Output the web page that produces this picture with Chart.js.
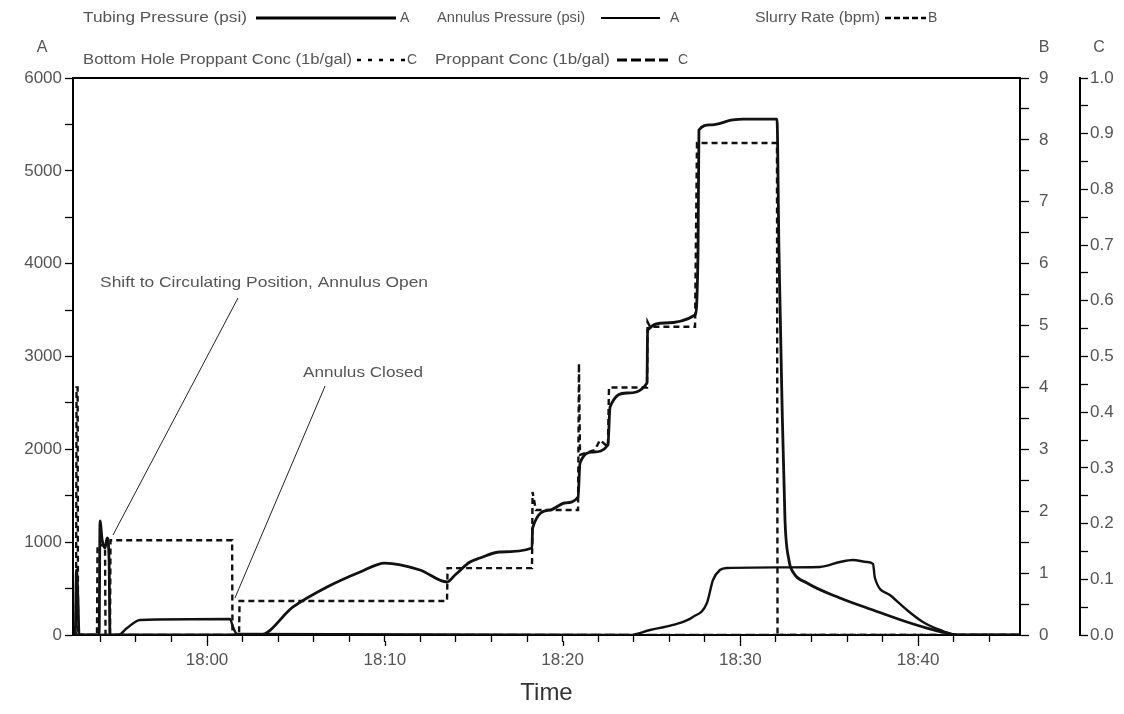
<!DOCTYPE html>
<html>
<head>
<meta charset="utf-8">
<script src="https://cdn.jsdelivr.net/npm/chart.js@4"></script>
<style>
  html, body { margin: 0; padding: 0; background: #fff; }
  #wrap { width: 1124px; height: 714px; }
</style>
</head>
<body>
<div id="wrap"><canvas id="chart" width="1124" height="714"></canvas></div>
<script>
// time in minutes relative to 18:00
const tubingTime = [-7.54, -7.42, -7.34, -7.26, -7.2, -6.07, -6.02, -5.9, -5.74, -5.62, -5.51, -5.46, 2.98, 4.84, 6.75, 8.61, 10.0, 11.98, 13.5, 13.95, 14.79, 15.35, 16.48, 18.28, 18.31, 19.29, 20.13, 20.87, 20.98, 21.71, 22.55, 22.67, 23.62, 24.75, 24.78, 25.76, 27.45, 27.62, 27.67, 28.29, 29.58, 30.15, 32.06, 32.17, 32.34, 32.51, 32.73, 32.96, 33.75, 35.6, 37.46, 39.37, 40.49, 41.62, 42.35, 45.73];
const tubingPsi = [0, 0, 700, 377, 0, 0, 1228, 1023, 937, 1045, 808, 0, 0, 302, 517, 679, 775, 700, 571, 646, 786, 829, 894, 937, 1153, 1346, 1422, 1487, 1853, 1971, 2047, 2456, 2607, 2715, 3285, 3361, 3447, 4147, 5440, 5494, 5548, 5558, 5558, 4147, 2531, 1239, 808, 679, 560, 399, 269, 140, 75, 22, 0, 0];

const annulusTime = [-7.54, -5.0, -4.5, -3.77, 1.29, 1.46, 1.69, 23.8, 24.92, 26.21, 27.33, 28.12, 28.46, 28.85, 29.25, 34.48, 35.6, 36.33, 37.12, 37.46, 37.57, 38.41, 39.37, 40.27, 41.23, 42.18, 45.73];
const annulusPsi = [0, 0, 75, 162, 172, 86, 11, 0, 54, 108, 194, 345, 592, 700, 722, 733, 786, 808, 786, 765, 614, 431, 269, 140, 54, 0, 0];

const slurryTime = [-7.54, -7.37, -7.34, -7.28, -7.26, -6.19, -6.16, -5.74, -5.71, -5.46, -5.43, 1.41, 1.43, 1.80, 1.83, 13.5, 13.53, 18.28, 18.31, 18.5, 20.87, 20.92, 20.98, 21.82, 22.1, 22.55, 22.61, 24.75, 24.78, 24.92, 27.45, 27.56, 32.06, 32.09, 45.73];
const slurryBpm = [0, 0, 4.0, 4.0, 0, 0, 1.45, 1.45, 0, 0, 1.53, 1.53, 0, 0, 0.55, 0.55, 1.08, 1.08, 2.31, 2.02, 2.02, 4.39, 2.91, 2.99, 3.15, 3.04, 4.0, 4.0, 5.06, 4.98, 4.98, 7.95, 7.95, 0, 0];

const bhConcTime = [-7.54, 10, 20, 30, 45.73];
const bhConc = [0, 0, 0, 0, 0];
const propConcTime = [-7.54, 10, 20, 30, 45.73];
const propConc = [0, 0, 0, 0, 0];

const timeTickValues = [0, 10, 20, 30, 40];
const timeTickLabels = ['18:00', '18:10', '18:20', '18:30', '18:40'];

const gray = '#555';
const fam = 'Liberation Sans, Arial, sans-serif';
const tickFont = { family: fam, size: 17 };

function pts(xs, ys) {
  return xs.map((x, i) => ({ x: x, y: ys[i] }));
}

// the original text is drawn a little wide, so stretch it to its width
function wideText(ctx, text, x, y, w) {
  const m = ctx.measureText(text).width;
  ctx.save();
  ctx.translate(x, y);
  ctx.scale(w / m, 1);
  ctx.fillText(text, 0, 0);
  ctx.restore();
}

// frame top line, longer major ticks, legend, axis letters and the two notes
const decorations = {
  id: 'decorations',
  afterDraw: (chart) => {
    const { ctx, chartArea: { left, right, top, bottom }, scales } = chart;
    const x = scales.x, y = scales.y;
    ctx.save();
    ctx.strokeStyle = '#000';
    ctx.lineWidth = 2;
    ctx.beginPath();
    ctx.moveTo(left - 1, top);
    ctx.lineTo(right + 1, top);
    ctx.stroke();

    ctx.lineWidth = 1.3;
    ctx.beginPath();
    timeTickValues.forEach((v) => {
      const px = Math.round(x.getPixelForValue(v)) + 0.5;
      ctx.moveTo(px, bottom + 6);
      ctx.lineTo(px, bottom + 11);
    });
    ctx.stroke();

    ctx.fillStyle = gray;
    ctx.textBaseline = 'middle';
    ctx.font = '16px ' + fam;
    ctx.textAlign = 'center';
    ctx.fillText('A', 42, 48);
    ctx.fillText('B', 1044, 48);
    ctx.fillText('C', 1099, 48);

    ctx.textAlign = 'left';
    ctx.font = '14px ' + fam;
    const seg = (x1, x2, yy, w, dash) => {
      ctx.beginPath();
      ctx.lineWidth = w;
      ctx.setLineDash(dash);
      ctx.moveTo(x1, yy);
      ctx.lineTo(x2, yy);
      ctx.stroke();
      ctx.setLineDash([]);
    };
    wideText(ctx, 'Tubing Pressure (psi)', 83, 18, 164);
    seg(256, 396, 18, 3, []);
    ctx.fillText('A', 400, 18);
    wideText(ctx, 'Annulus Pressure (psi)', 437, 18, 148);
    seg(601, 660, 18, 2, []);
    ctx.fillText('A', 670, 18);
    wideText(ctx, 'Slurry Rate (bpm)', 755, 18, 125);
    seg(885, 926, 18, 2.5, [6, 3]);
    ctx.fillText('B', 928, 18);
    wideText(ctx, 'Bottom Hole Proppant Conc (1b/gal)', 83, 60, 269);
    seg(357, 405, 60, 2.5, [4, 7]);
    ctx.fillText('C', 407, 60);
    wideText(ctx, 'Proppant Conc (1b/gal)', 435, 60, 175);
    seg(617, 668, 60, 3, [10, 4]);
    ctx.fillText('C', 678, 60);

    // notes, anchored in data units
    ctx.font = '15px ' + fam;
    wideText(ctx, 'Shift to Circulating Position, Annulus Open', x.getPixelForValue(-6.02), y.getPixelForValue(3792), 328);
    wideText(ctx, 'Annulus Closed', x.getPixelForValue(5.4), y.getPixelForValue(2822), 120);
    ctx.strokeStyle = '#222';
    ctx.lineWidth = 1;
    ctx.beginPath();
    ctx.moveTo(x.getPixelForValue(1.74), y.getPixelForValue(3630));
    ctx.lineTo(x.getPixelForValue(-5.29), y.getPixelForValue(1077));
    ctx.moveTo(x.getPixelForValue(6.64), y.getPixelForValue(2682));
    ctx.lineTo(x.getPixelForValue(1.57), y.getPixelForValue(399));
    ctx.stroke();
    ctx.restore();
  }
};

new Chart(document.getElementById('chart'), {
  type: 'scatter',
  data: {
    datasets: [{
      label: 'Tubing Pressure (psi)',
      data: pts(tubingTime, tubingPsi),
      yAxisID: 'y',
      showLine: true,
      borderColor: '#111',
      borderWidth: 2.8,
      pointRadius: 0,
      cubicInterpolationMode: 'monotone',
    }, {
      label: 'Annulus Pressure (psi)',
      data: pts(annulusTime, annulusPsi),
      yAxisID: 'y',
      showLine: true,
      borderColor: '#111',
      borderWidth: 2.4,
      pointRadius: 0,
      cubicInterpolationMode: 'monotone',
    }, {
      label: 'Slurry Rate (bpm)',
      data: pts(slurryTime, slurryBpm),
      yAxisID: 'yB',
      showLine: true,
      borderColor: '#111',
      borderWidth: 2.4,
      borderDash: [6, 4],
      pointRadius: 0,
    }, {
      label: 'Bottom Hole Proppant Conc (1b/gal)',
      data: pts(bhConcTime, bhConc),
      yAxisID: 'yC',
      showLine: true,
      borderColor: '#111',
      borderWidth: 2,
      borderDash: [4, 7],
      pointRadius: 0,
    }, {
      label: 'Proppant Conc (1b/gal)',
      data: pts(propConcTime, propConc),
      yAxisID: 'yC',
      showLine: true,
      borderColor: '#111',
      borderWidth: 2.5,
      borderDash: [10, 4],
      pointRadius: 0,
    }]
  },
  options: {
    responsive: false,
    animation: false,
    layout: { padding: { top: 78, left: 0, right: 0, bottom: 0 } },
    plugins: {
      legend: { display: false },
      tooltip: { enabled: false },
    },
    scales: {
      x: {
        type: 'linear',
        position: 'bottom',
        min: -7.54,
        max: 45.73,
        afterFit: (s) => { s.height = 79; },
        border: { color: '#000', width: 2 },
        grid: { drawOnChartArea: false, drawTicks: true, tickLength: 7, color: '#000', tickWidth: 1.3 },
        ticks: {
          stepSize: 2,
          includeBounds: false,
          autoSkip: false,
          maxRotation: 0,
          color: gray,
          font: tickFont,
          padding: 8,
          callback: (v) => {
            const i = timeTickValues.indexOf(Math.round(v));
            return (i >= 0 && Math.abs(v - Math.round(v)) < 1e-6) ? timeTickLabels[i] : '';
          }
        },
        title: {
          display: true,
          text: 'Time',
          color: '#333',
          font: { family: fam, size: 24 },
          padding: { top: 2, bottom: 6 }
        }
      },
      y: {
        position: 'left',
        min: 0,
        max: 6000,
        afterFit: (s) => { s.width = 73; },
        border: { color: '#000', width: 2 },
        grid: { drawOnChartArea: false, tickLength: 8, color: '#000', tickWidth: 1.3 },
        ticks: {
          stepSize: 500,
          color: gray,
          font: tickFont,
          padding: 3,
          callback: (v) => (v % 1000 === 0 ? String(v) : '')
        }
      },
      yB: {
        position: 'right',
        min: 0,
        max: 9,
        afterFit: (s) => { s.width = 60; },
        border: { color: '#000', width: 2 },
        grid: { drawOnChartArea: false, tickLength: 9, color: '#000', tickWidth: 1.3 },
        ticks: {
          stepSize: 0.5,
          color: gray,
          font: tickFont,
          padding: 10,
          callback: (v) => (Math.abs(v - Math.round(v)) < 1e-6 ? String(Math.round(v)) : '')
        }
      },
      yC: {
        position: 'right',
        min: 0,
        max: 1,
        afterFit: (s) => { s.width = 44; },
        border: { color: '#000', width: 2 },
        grid: { drawOnChartArea: false, tickLength: 8, color: '#000', tickWidth: 1.3 },
        ticks: {
          stepSize: 0.05,
          color: gray,
          font: tickFont,
          padding: 2,
          callback: (v) => (Math.round(v * 100) % 10 === 0 ? v.toFixed(1) : '')
        }
      }
    }
  },
  plugins: [decorations],
});
</script>
</body>
</html>
